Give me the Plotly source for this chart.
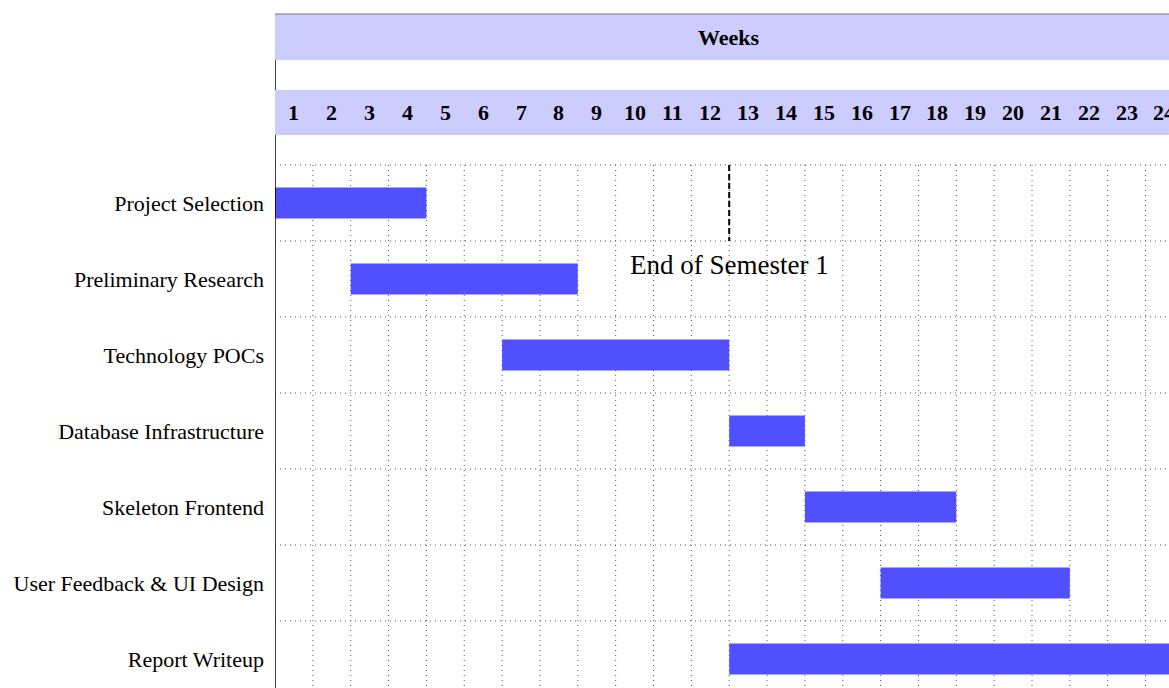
import plotly.graph_objects as go

tasks = ["Project Selection", "Preliminary Research", "Technology POCs",
         "Database Infrastructure", "Skeleton Frontend",
         "User Feedback & UI Design", "Report Writeup"]
start_week = [1, 3, 7, 13, 15, 17, 13]
end_week = [4, 8, 12, 14, 18, 21, 24]
weeks = list(range(1, 25))
header_title = "Weeks"
milestone_week = 12
milestone_label = "End of Semester 1"

W, H = 1169, 688
left = 275
unit = 37.85
row_px = 76
row0_center = 203
xmax = (W - left) / unit
ytop = -row0_center / row_px
ybot = (H - row0_center) / row_px

def ry(p):
    return (p - row0_center) / row_px

FONT = "Liberation Serif"
bar_color = "#5050ff"
head_color = "#ccccff"
grid_dash = dict(color="#555555", width=1, dash="1px,4px")

rows = list(range(len(tasks)))
fig = go.Figure()
fig.add_trace(go.Bar(
    y=rows,
    x=[e - s + 1 for s, e in zip(start_week, end_week)],
    base=[s - 1 for s in start_week],
    orientation="h",
    width=0.41,
    marker=dict(color=bar_color, line=dict(width=0)),
    hoverinfo="skip",
))

shapes = []
shapes.append(dict(type="rect", xref="x", yref="y", x0=0, x1=len(weeks), y0=ry(14), y1=ry(60),
                   fillcolor=head_color, line=dict(width=0), layer="below"))
shapes.append(dict(type="rect", xref="x", yref="y", x0=0, x1=len(weeks), y0=ry(90), y1=ry(135),
                   fillcolor=head_color, line=dict(width=0), layer="below"))
shapes.append(dict(type="line", xref="x", yref="y", x0=0, x1=len(weeks), y0=ry(14), y1=ry(14),
                   line=dict(color="#777777", width=1), layer="above"))
shapes.append(dict(type="line", xref="x", yref="y", x0=0, x1=0, y0=ry(60), y1=ry(90),
                   line=dict(color="black", width=1.5), layer="above"))
shapes.append(dict(type="line", xref="x", yref="y", x0=0, x1=0, y0=ry(135), y1=ybot,
                   line=dict(color="black", width=1.5), layer="above"))
for i in range(len(tasks) + 1):
    yv = i - 0.5
    shapes.append(dict(type="line", xref="x", yref="y", x0=0, x1=len(weeks), y0=yv, y1=yv,
                       line=grid_dash, layer="below"))
for w in weeks[:-1]:
    shapes.append(dict(type="line", xref="x", yref="y", x0=w, x1=w, y0=-0.5, y1=ybot,
                       line=grid_dash, layer="below"))
shapes.append(dict(type="line", xref="x", yref="y", x0=milestone_week, x1=milestone_week,
                   y0=-0.5, y1=0.5, line=dict(color="black", width=2, dash="6px,3px"), layer="above"))

annotations = [dict(x=len(weeks) / 2, y=ry(37), xref="x", yref="y", text="<b>%s</b>" % header_title,
                    showarrow=False, font=dict(family=FONT, size=22, color="black"))]
for w in weeks:
    annotations.append(dict(x=w - 0.5, y=ry(112), xref="x", yref="y", text="<b>%d</b>" % w,
                            showarrow=False, font=dict(family=FONT, size=22, color="black")))
annotations.append(dict(x=milestone_week, y=ry(265), xref="x", yref="y", text=milestone_label,
                        showarrow=False, font=dict(family=FONT, size=27, color="black")))

fig.update_layout(
    width=W, height=H,
    margin=dict(l=left, r=0, t=0, b=0, pad=0),
    plot_bgcolor="white", paper_bgcolor="white",
    showlegend=False,
    shapes=shapes, annotations=annotations,
    xaxis=dict(range=[0, xmax], showgrid=False, zeroline=False, showticklabels=False,
               showline=False, fixedrange=True),
    yaxis=dict(range=[ybot, ytop], showgrid=False, zeroline=False, showline=False,
               tickmode="array", tickvals=rows, ticktext=tasks, ticks="",
               ticklabelstandoff=10,
               tickfont=dict(family=FONT, size=22, color="black"), fixedrange=True),
)
fig.write_html("out.html", config={"displayModeBar": False},
               post_script="document.body.style.margin='0px';document.body.style.overflow='hidden';")
